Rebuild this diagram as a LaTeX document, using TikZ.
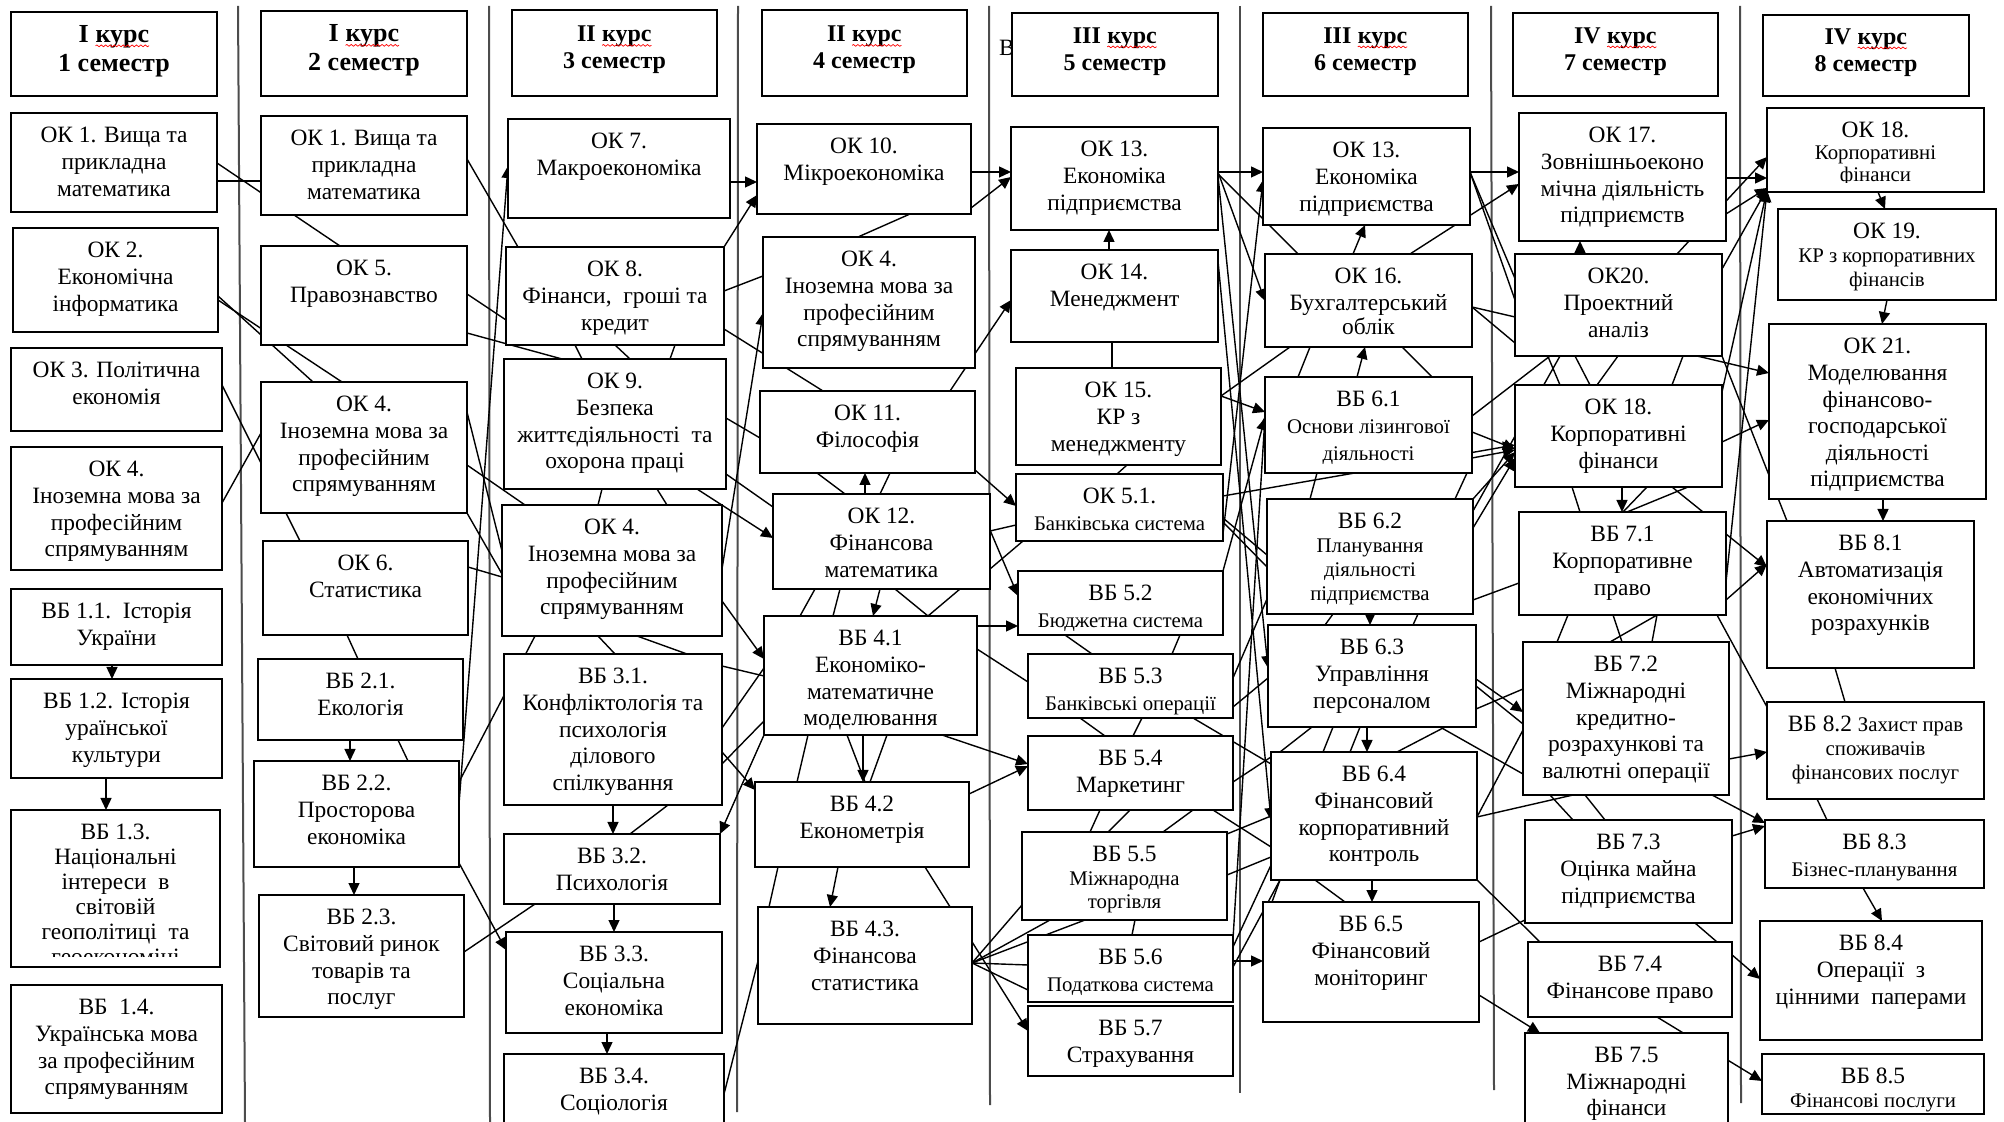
\documentclass[tikz,border=0pt]{standalone}
\usepackage{fontspec}
\setmainfont{Liberation Serif}
\usetikzlibrary{arrows.meta,backgrounds,decorations.pathmorphing}

\newcommand\sm{\fontsize{10.4}{12}\selectfont}
\newcommand\kurs{\tikz[baseline=(kw.base)]{\node[inner sep=0pt,outer sep=0pt,anchor=base](kw){курс};\draw[red,line width=0.35pt,decorate,decoration={snake,amplitude=0.45pt,segment length=2.2pt}]([yshift=-1.8pt]kw.base west)--([yshift=-1.8pt]kw.base east);}}

\tikzset{
 box/.style={draw, line width=0.9pt, fill=white, inner sep=0pt, outer sep=0pt},
 txt/.style={align=center, inner sep=0pt, font=\fontsize{11.7}{13.3}\selectfont},
 hA/.style={align=center, inner sep=0pt, font=\bfseries\fontsize{13}{14.5}\selectfont},
 hB/.style={align=center, inner sep=0pt, font=\bfseries\fontsize{12}{13.5}\selectfont},
 ln/.style={draw, line width=0.7pt},
 ar/.style={ln, -{Triangle[length=6pt,width=5.5pt]}},
 sep/.style={draw, line width=1pt, black!70},
}

% name x1 y1 x2 y2 text
\newcommand\bx[6]{%
 \node[box,minimum width={(#4-#2)*0.5pt},minimum height={(#5-#3)*0.5pt}] (#1) at ({(#2+#4)/2},{(#3+#5)/2}) {};
 \node[txt,anchor=north] (#1t) at ([yshift=-7pt]#1.north) {#6};}
% name x1 y1 x2 y2 clipy text
\newcommand\bxc[7]{%
 \node[box,minimum width={(#4-#2)*0.5pt},minimum height={(#5-#3)*0.5pt}] (#1) at ({(#2+#4)/2},{(#3+#5)/2}) {};
 \begin{scope}
 \clip (#2,#3) rectangle (#4,#6);
 \node[txt,anchor=north,font=\fontsize{11.7}{12.5}\selectfont] (#1t) at ([yshift=-7pt]#1.north) {#7};
 \end{scope}}
% style name x1 y1 x2 y2 text
\newcommand\hb[7]{%
 \node[box,minimum width={(#5-#3)*0.5pt},minimum height={(#6-#4)*0.5pt}] (#2) at ({(#3+#5)/2},{(#4+#6)/2}) {};
 \node[#1] (#2t) at ([yshift=1.5pt]#2.center) {#7};}

\begin{document}
\begin{tikzpicture}[x=0.5pt,y=-0.5pt]
\useasboundingbox (0,0) rectangle (2004,1122);

\begin{pgfonlayer}{background}
\draw[sep] (238,6) -- (245,1122);
\draw[sep] (489,6) -- (490,1122);
\draw[sep] (738,6) -- (737,1112);
\draw[sep] (989,6) -- (990,1105);
\draw[sep] (1240,6) -- (1240,1093);
\draw[sep] (1491,6) -- (1494,1090);
\draw[sep] (1740,6) -- (1741,1103);
\end{pgfonlayer}

\node[txt] (strayB) at (1007,48) {В};

% headers
\hb{hA}{h1}{11}{12}{217}{96}{I \kurs\\1 семестр}
\hb{hA}{h2}{261}{11}{467}{96}{I \kurs\\2 семестр}
\hb{hB}{h3}{512}{10}{717}{96}{II \kurs\\3 семестр}
\hb{hB}{h4}{762}{10}{967}{96}{II \kurs\\4 семестр}
\hb{hB}{h5}{1012}{13}{1218}{96}{III \kurs\\5 семестр}
\hb{hB}{h6}{1263}{13}{1468}{96}{III \kurs\\6 семестр}
\hb{hB}{h7}{1513}{13}{1718}{96}{IV \kurs\\7 семестр}
\hb{hB}{h8}{1763}{15}{1969}{96}{IV \kurs\\8 семестр}

% column 1
\bx{a1}{11}{113}{217}{212}{ОК 1. Вища та\\прикладна\\математика}
\bx{a2}{13}{228}{218}{332}{ОК 2.\\Економічна\\інформатика}
\bx{a3}{11}{348}{222}{431}{ОК 3. Політична\\економія}
\bx{a4}{11}{447}{222}{570}{ОК 4.\\Іноземна мова за\\професійним\\спрямуванням}
\bx{a11}{11}{589}{222}{665}{ВБ 1.1.\ \ Історія\\України}
\bx{a12}{11}{679}{222}{778}{ВБ 1.2. Історія\\ураїнської\\культури}
\bxc{a13}{11}{810}{220}{967}{956}{ВБ 1.3.\\Національні\\інтереси\ \ в\\світовій\\геополітиці\ \ та\\геоекономіці}
\bx{a14}{11}{985}{222}{1113}{ВБ\ \ 1.4.\\Українська мова\\за професійним\\спрямуванням}

% column 2
\bx{b1}{261}{116}{467}{215}{ОК 1. Вища та\\прикладна\\математика}
\bx{b5}{261}{246}{467}{345}{ОК 5.\\Правознавство}
\bx{b4}{261}{382}{467}{513}{ОК 4.\\Іноземна мова за\\професійним\\спрямуванням}
\bx{b6}{263}{541}{468}{635}{ОК 6.\\Статистика}
\bx{b21}{258}{659}{463}{740}{ВБ 2.1.\\Екологія}
\bx{b22}{254}{761}{459}{867}{ВБ 2.2.\\Просторова\\економіка}
\bx{b23}{259}{895}{464}{1017}{ВБ 2.3.\\Світовий ринок\\товарів та\\послуг}

% column 3
\bx{c7}{508}{119}{730}{218}{ОК 7.\\Макроекономіка}
\bx{c8}{506}{247}{724}{345}{ОК 8.\\Фінанси,\ \ гроші та\\кредит}
\bx{c9}{504}{359}{726}{489}{ОК 9.\\Безпека\\життєдіяльності\ \ та\\охорона праці}
\bx{c4}{502}{505}{722}{636}{ОК 4.\\Іноземна мова за\\професійним\\спрямуванням}
\bx{c31}{504}{654}{722}{805}{ВБ 3.1.\\Конфліктологія та\\психологія\\ділового\\спілкування}
\bx{c32}{504}{834}{720}{904}{ВБ 3.2.\\Психологія}
\bx{c33}{506}{932}{722}{1033}{ВБ 3.3.\\Соціальна\\економіка}
\bx{c34}{504}{1054}{724}{1126}{ВБ 3.4.\\Соціологія}

% column 4
\bx{d10}{757}{124}{971}{214}{ОК 10.\\Мікроекономіка}
\bx{d4}{763}{237}{975}{368}{ОК 4.\\Іноземна мова за\\професійним\\спрямуванням}
\bx{d11}{760}{391}{975}{473}{ОК 11.\\Філософія}
\bx{d12}{773}{494}{990}{589}{ОК 12.\\Фінансова\\математика}
\bx{d41}{764}{616}{977}{735}{ВБ 4.1\\Економіко-\\математичне\\моделювання}
\bx{d42}{755}{782}{969}{867}{ВБ 4.2\\Економетрія}
\bx{d43}{758}{907}{972}{1024}{ВБ 4.3.\\Фінансова\\статистика}

% column 5
\bx{e13}{1011}{127}{1218}{230}{ОК 13.\\Економіка\\підприємства}
\bx{e14}{1011}{250}{1218}{342}{ОК 14.\\Менеджмент}
\bx{e15}{1016}{368}{1221}{465}{ОК 15.\\КР з\\менеджменту}
\bx{e51}{1016}{474}{1223}{541}{ОК 5.1.\\{\sm Банківська система}}
\bx{e52}{1018}{571}{1223}{635}{ВБ 5.2\\{\sm Бюджетна система}}
\bx{e53}{1028}{654}{1233}{718}{ВБ 5.3\\{\sm Банківські операції}}
\bx{e54}{1028}{736}{1233}{810}{ВБ 5.4\\Маркетинг}
\bx{e55}{1022}{832}{1227}{920}{ВБ 5.5\\[-1.5pt]{\sm Міжнародна}\\[-1.5pt]{\sm торгівля}}
\bx{e56}{1028}{935}{1233}{1002}{ВБ 5.6\\{\sm Податкова система}}
\bx{e57}{1028}{1006}{1233}{1076}{ВБ 5.7\\Страхування}

% column 6
\bx{f13}{1263}{128}{1470}{225}{ОК 13.\\Економіка\\підприємства}
\bx{f16}{1265}{254}{1472}{347}{ОК 16.\\Бухгалтерський\\[-1.5pt]облік}
\bx{f61}{1265}{377}{1472}{473}{ВБ 6.1\\{\sm Основи лізингової}\\{\sm діяльності}}
\bx{f62}{1267}{499}{1473}{614}{ВБ 6.2\\[-1.3pt]{\sm Планування}\\[-1.3pt]{\sm діяльності}\\[-1.3pt]{\sm підприємства}}
\bx{f63}{1268}{625}{1476}{727}{ВБ 6.3\\Управління\\персоналом}
\bx{f64}{1271}{752}{1477}{880}{ВБ 6.4\\Фінансовий\\корпоративний\\контроль}
\bx{f65}{1263}{902}{1479}{1022}{ВБ 6.5\\Фінансовий\\моніторинг}

% column 7
\bx{g17}{1519}{113}{1726}{241}{ОК 17.\\Зовнішньоеконо\\мічна діяльність\\підприємств}
\bx{g20}{1515}{254}{1722}{356}{ОК20.\\Проектний\\аналіз}
\bx{g18}{1515}{385}{1722}{487}{ОК 18.\\Корпоративні\\фінанси}
\bx{g71}{1519}{512}{1726}{615}{ВБ 7.1\\Корпоративне\\право}
\bx{g72}{1523}{642}{1729}{795}{ВБ 7.2\\Міжнародні\\кредитно-\\розрахункові та\\валютні операції}
\bx{g73}{1525}{820}{1732}{923}{ВБ 7.3\\Оцінка майна\\підприємства}
\bx{g74}{1528}{942}{1732}{1017}{ВБ 7.4\\Фінансове право}
\bx{g75}{1525}{1033}{1728}{1126}{ВБ 7.5\\Міжнародні\\фінанси}

% column 8
\bxc{k18}{1767}{108}{1984}{192}{183}{ОК 18.\\[-1.5pt]{\sm Корпоративні}\\[-1.5pt]{\sm фінанси}}
\bx{k19}{1778}{209}{1996}{300}{ОК 19.\\[-1.5pt]{\sm КР з корпоративних}\\[-1.5pt]{\sm фінансів}}
\bx{k21}{1769}{324}{1986}{499}{ОК 21.\\Моделювання\\фінансово-\\господарської\\діяльності\\підприємства}
\bx{k81}{1767}{521}{1974}{668}{ВБ 8.1\\Автоматизація\\економічних\\розрахунків}
\bx{k82}{1767}{702}{1984}{799}{ВБ 8.2 {\sm Захист прав}\\[-1.5pt]{\sm споживачів}\\[-1.5pt]{\sm фінансових послуг}}
\bx{k83}{1765}{820}{1984}{888}{ВБ 8.3\\{\sm Бізнес-планування}}
\bx{k84}{1760}{921}{1982}{1040}{ВБ 8.4\\Операції\ \ з\\цінними\ \ паперами}
\bx{k85}{1762}{1054}{1984}{1114}{ВБ 8.5\\[-1.5pt]{\sm Фінансові послуги}}

\begin{pgfonlayer}{background}
% gutter 1-2
\draw[ln] (a1.east |- 0,181) -- (b1.west |- 0,181);
\draw[ln] (a1.east |- 0,163) -- (b5.north -| 340,0);
\draw[ln] (a2.east |- 0,296) -- (b4.north -| 313,0);
\draw[ln] (a2.east |- 0,300) -- (b4.north -| 342,0);
\draw[ln] (a3.east |- 0,385) -- (b4.west |- 0,463);
\draw[ln] (a4.east |- 0,503) -- (b4.west |- 0,433);
\draw[ln] (b4.south -| 286,0) -- (b6.north -| 300,0);
\draw[ln] (b6.south -| 347,0) -- (b21.north -| 358,0);
\draw[ln] (b21.south -| 398,0) -- (b22.north -| 408,0);
\draw[ar] (b21.south -| 350,0) -- (b22.north -| 350,0);
\draw[ar] (b22.south -| 354,0) -- (b23.north -| 354,0);
\draw[ar] (a11.south -| 112,0) -- (a12.north -| 112,0);
\draw[ar] (a12.south -| 106,0) -- (a13.north -| 106,0);
% gutter 2-3
\draw[ln] (b1.east |- 0,159) -- (c8.north -| 518,0);
\draw[ln] (b5.east |- 0,294) -- (c8.west |- 0,320);
\draw[ln] (b5.east |- 0,333) -- (c9.north -| 562,0);
\draw[ln] (b4.east |- 0,412) -- (c4.west |- 0,551);
\draw[ln] (b4.east |- 0,465) -- (c4.north -| 525,0);
\draw[ln] (b4.south east) -- (c4.west |- 0,574);
\draw[ln] (b6.east |- 0,567) -- (c4.west |- 0,577);
\draw[ln] (b22.east |- 0,782) -- (c4.south -| 535,0);
\draw[ar] (b22.east |- 0,804) -- (c7.west |- 0,166);
\draw[ar] (b22.east |- 0,863) -- (c33.west |- 0,950);
\draw[ln] (c32.south -| 535,0) -- (b23.east |- 0,952);
% column 3
\draw[ar] (c31.south -| 613,0) -- (c32.north -| 613,0);
\draw[ar] (c32.south -| 614,0) -- (c33.north -| 614,0);
\draw[ar] (c33.south -| 607,0) -- (c34.north -| 607,0);
\draw[ln] (c31.south -| 668,0) -- (c32.north -| 630,0);
\draw[ln] (c8.south -| 575,0) -- (c9.north -| 582,0);
\draw[ln] (c8.south -| 615,0) -- (c9.north -| 630,0);
\draw[ln] (c8.south -| 675,0) -- (c9.north -| 670,0);
\draw[ln] (c9.south -| 602,0) -- (c4.north -| 598,0);
\draw[ln] (c9.south -| 657,0) -- (c4.north -| 667,0);
\draw[ln] (c4.south -| 598,0) -- (c31.north -| 615,0);
\draw[ln] (c4.south -| 637,0) -- (c31.north -| 687,0);
% gutter 3-4
\draw[ar] (c7.east |- 0,182) -- (d10.west |- 0,182);
\draw[ar] (c8.north east) -- (d10.west |- 0,195);
\draw[ln] (c8.east |- 0,291) -- (d4.west |- 0,276);
\draw[ln] (c8.east |- 0,329) -- (d11.north -| 823,0);
\draw[ln] (c9.east |- 0,418) -- (d11.west |- 0,438);
\draw[ln] (c9.east |- 0,474) -- (d12.west |- 0,507);
\draw[ar] (c9.south -| 697,0) -- (d12.west |- 0,538);
\draw[ar] (c4.east |- 0,569) -- (d4.west |- 0,313);
\draw[ar] (c4.east |- 0,601) -- (d41.west |- 0,659);
\draw[ln] (c31.east |- 0,666) -- (d41.west |- 0,676);
\draw[ln] (c31.east |- 0,728) -- (d41.west |- 0,668);
\draw[ln] (c31.east |- 0,764) -- (d41.west |- 0,721);
\draw[ar] (c31.east |- 0,752) -- (d42.west |- 0,790);
\draw[ar] (d41.south west) -- (c32.north east);
\draw[ln] (c34.east |- 0,1094) -- (d43.west |- 0,961);
% column 4
\draw[ln] (d10.south -| 910,0) -- (d4.north -| 858,0);
\draw[ar] (d11.north -| 950,0) -- (e14.west |- 0,300);
\draw[ar] (d12.north -| 865,0) -- (d11.south -| 865,0);
\draw[ln] (d11.south -| 817,0) -- (d12.north -| 845,0);
\draw[ln] (d11.south -| 890,0) -- (d12.north -| 880,0);
\draw[ar] (d11.east |- 0,470) -- (e51.west |- 0,506);
\draw[ar] (d12.south -| 880,0) -- (d41.north -| 873,0);
\draw[ln] (d12.south -| 815,0) -- (d41.north -| 800,0);
\draw[ln] (d12.south -| 840,0) -- (d41.north -| 833,0);
\draw[ln] (d12.south -| 895,0) -- (d41.north -| 928,0);
\draw[ln] (d12.south -| 960,0) -- (d41.north -| 928,0);
\draw[ar] (d41.south -| 863,0) -- (d42.north -| 863,0);
\draw[ln] (d41.south -| 847,0) -- (d42.north -| 865,0);
\draw[ln] (d41.south -| 887,0) -- (d42.north -| 870,0);
\draw[ln] (d41.south -| 808,0) -- (d42.north -| 797,0);
\draw[ar] (d42.south -| 838,0) -- (d43.north -| 830,0);
\draw[ln] (d42.south -| 778,0) -- (d43.north -| 769,0);
\draw[ar] (d42.south -| 925,0) -- (e57.west |- 0,1031);
% gutter 4-5
\draw[ar] (d10.east |- 0,172) -- (e13.west |- 0,172);
\draw[ar] (d10.east |- 0,208) -- (e13.west |- 0,177);
\draw[ar] (d12.east |- 0,530) -- (e52.west |- 0,596);
\draw[ar] (d41.east |- 0,626) -- (e52.west |- 0,626);
\draw[ln] (d41.east |- 0,649) -- (e53.west |- 0,682);
\draw[ar] (d41.south -| 942,0) -- (e54.west |- 0,764);
\draw[ar] (d42.east |- 0,794) -- (e54.west |- 0,766);
\draw[ln] (d12.east |- 0,531) -- (e51.west |- 0,525);
\draw[ln] (e51.south -| 1023,0) -- (d12.east |- 0,569);
\draw[ln] (d43.east |- 0,963) -- (e55.west |- 0,905);
\draw[ln] (d43.east |- 0,963) -- (e55.south -| 1050,0);
\draw[ln] (d43.east |- 0,963) -- (e55.south -| 1085,0);
\draw[ln] (d43.east |- 0,963) -- (e56.west |- 0,965);
\draw[ln] (d43.east |- 0,963) -- (e56.west |- 0,990);
% column 5
\draw[ar] (e14.north -| 1109,0) -- (e13.south -| 1109,0);
\draw[ln] (e14.south -| 1112,0) -- (e15.north -| 1112,0);
\draw[ln] (e15.south -| 1127,0) -- (e51.north -| 1117,0);
\draw[ln] (e52.south -| 1065,0) -- (e53.north -| 1092,0);
\draw[ln] (e52.south -| 1180,0) -- (e53.north -| 1172,0);
\draw[ln] (e53.south -| 1080,0) -- (e54.north -| 1105,0);
\draw[ln] (e53.south -| 1142,0) -- (e54.north -| 1133,0);
\draw[ln] (e54.south -| 1100,0) -- (e55.north -| 1090,0);
\draw[ln] (e54.south -| 1130,0) -- (e55.north -| 1108,0);
\draw[ln] (e54.south -| 1193,0) -- (e55.north -| 1163,0);
\draw[ln] (e55.south -| 1135,0) -- (e56.north -| 1132,0);
% gutter 5-6
\draw[ar] (e13.east |- 0,172) -- (f13.west |- 0,172);
\draw[ln] (e13.east |- 0,174) -- (f16.north -| 1298,0);
\draw[ar] (e13.east |- 0,172) -- (f16.west |- 0,301);
\draw[ar] (e13.east |- 0,176) -- (f63.west |- 0,668);
\draw[ar] (e14.east |- 0,261) -- (f64.west |- 0,820);
\draw[ar] (e15.east |- 0,396) -- (f61.west |- 0,412);
\draw[ln] (e15.east |- 0,396) -- (f16.south -| 1290,0);
\draw[ar] (e51.east |- 0,534) -- (f13.west |- 0,180);
\draw[ar] (e52.north east) -- (f61.west |- 0,418);
\draw[ar] (e51.east |- 0,496) -- (g18.west |- 0,445);
\draw[ln] (e51.east |- 0,518) -- (f62.west |- 0,555);
\draw[ln] (e51.east |- 0,522) -- (f62.west |- 0,567);
\draw[ln] (e53.east |- 0,707) -- (f63.west |- 0,678);
\draw[ln] (e53.east |- 0,678) -- (f62.west |- 0,599);
\draw[ln] (e53.south -| 1193,0) -- (f64.west |- 0,764);
\draw[ln] (e54.east |- 0,782) -- (f64.west |- 0,757);
\draw[ln] (e55.east |- 0,834) -- (f64.west |- 0,816);
\draw[ln] (e55.east |- 0,875) -- (f64.west |- 0,857);
\draw[ln] (e56.east |- 0,947) -- (f64.west |- 0,865);
\draw[ln] (e56.east |- 0,967) -- (f64.south -| 1280,0);
\draw[ar] (e56.east |- 0,961) -- (f65.west |- 0,961);
\draw[ar] (e56.east |- 0,939) -- (f61.west |- 0,416);
\draw[ln] (e54.south -| 1213,0) -- (f64.west |- 0,847);
% column 6
\draw[ar] (f16.north -| 1353,0) -- (f13.south -| 1365,0);
\draw[ar] (f61.north -| 1357,0) -- (f16.south -| 1365,0);
\draw[ar] (f62.south -| 1370,0) -- (f63.north -| 1370,0);
\draw[ar] (f63.south -| 1367,0) -- (f64.north -| 1367,0);
\draw[ar] (f64.south -| 1372,0) -- (f65.north -| 1372,0);
\draw[ln] (f16.south -| 1310,0) -- (f61.north -| 1298,0);
\draw[ln] (f16.south -| 1402,0) -- (f61.north -| 1432,0);
\draw[ln] (f61.south -| 1317,0) -- (f62.north -| 1310,0);
\draw[ln] (f61.south -| 1467,0) -- (f62.north -| 1455,0);
\draw[ln] (f62.south -| 1333,0) -- (f63.north -| 1325,0);
\draw[ln] (f62.south -| 1418,0) -- (f63.north -| 1413,0);
\draw[ln] (f63.south -| 1312,0) -- (f64.north -| 1280,0);
\draw[ln] (f63.south -| 1333,0) -- (f64.north -| 1323,0);
\draw[ln] (f63.south -| 1360,0) -- (f64.north -| 1350,0);
\draw[ln] (f63.south -| 1445,0) -- (f64.north -| 1397,0);
\draw[ln] (f64.south -| 1315,0) -- (f65.north -| 1345,0);
\draw[ln] (f64.south -| 1280,0) -- (f65.north -| 1272,0);
% gutter 6-7
\draw[ar] (f13.east |- 0,172) -- (g17.west |- 0,172);
\draw[ar] (f16.north -| 1410,0) -- (g17.west |- 0,184);
\draw[ln] (f13.east |- 0,172) -- (g20.west |- 0,300);
\draw[ln] (f13.east |- 0,172) -- (g18.north -| 1560,0);
\draw[ln] (f16.east |- 0,307) -- (g20.west |- 0,317);
\draw[ln] (f16.east |- 0,307) -- (g20.west |- 0,343);
\draw[ln] (f61.east |- 0,416) -- (g20.south -| 1550,0);
\draw[ar] (f61.east |- 0,432) -- (g18.west |- 0,449);
\draw[ar] (f61.east |- 0,458) -- (g18.west |- 0,450);
\draw[ar] (f62.north east) -- (g18.west |- 0,452);
\draw[ar] (f62.east |- 0,528) -- (g18.west |- 0,458);
\draw[ln] (f62.east |- 0,511) -- (g20.south -| 1560,0);
\draw[ln] (f62.east |- 0,600) -- (g71.west |- 0,583);
\draw[ar] (f63.east |- 0,679) -- (g72.west |- 0,712);
\draw[ln] (f63.east |- 0,686) -- (g72.west |- 0,724);
\draw[ln] (f63.east |- 0,709) -- (g72.west |- 0,689);
\draw[ln] (f63.south -| 1440,0) -- (g72.west |- 0,774);
\draw[ln] (f64.east |- 0,817) -- (g72.west |- 0,730);
\draw[ln] (f64.east |- 0,817) -- (g72.south -| 1573,0);
\draw[ln] (f64.south east) -- (g74.north -| 1540,0);
\draw[ln] (f65.east |- 0,942) -- (g73.west |- 0,920);
\draw[ar] (f65.east |- 0,995) -- (g75.north -| 1540,0);
% column 7
\draw[ar] (g20.north -| 1580,0) -- (g17.south -| 1580,0);
\draw[ar] (g18.south -| 1622,0) -- (g71.north -| 1622,0);
\draw[ln] (g20.south -| 1575,0) -- (g18.north -| 1590,0);
\draw[ln] (g20.south -| 1618,0) -- (g18.north -| 1597,0);
\draw[ln] (g20.south -| 1683,0) -- (g18.north -| 1672,0);
\draw[ln] (g18.south -| 1572,0) -- (g71.north -| 1580,0);
\draw[ln] (g18.south -| 1647,0) -- (g71.north -| 1623,0);
\draw[ln] (g18.south -| 1672,0) -- (g71.north -| 1703,0);
\draw[ln] (g18.south -| 1688,0) -- (g71.north -| 1627,0);
\draw[ln] (g71.south -| 1568,0) -- (g72.north -| 1557,0);
\draw[ln] (g71.south -| 1613,0) -- (g72.north -| 1622,0);
\draw[ln] (g71.south -| 1657,0) -- (g72.north -| 1610,0);
\draw[ln] (g71.south -| 1657,0) -- (g72.north -| 1652,0);
\draw[ln] (g72.south -| 1550,0) -- (g73.north -| 1573,0);
\draw[ln] (g72.south -| 1585,0) -- (g73.north -| 1605,0);
\draw[ar] (g74.south -| 1657,0) -- (k85.west |- 0,1081);
\draw[ar] (g20.north -| 1677,0) -- (k18.west |- 0,157);
% gutter 7-8
\draw[ar] (g17.east |- 0,178) -- (k18.west |- 0,178);
\draw[ar] (g17.east |- 0,214) -- (k18.west |- 0,188);
\draw[ar] (g20.east |- 0,269) -- (k18.west |- 0,189);
\draw[ar] (g18.east |- 0,392) -- (k18.west |- 0,190);
\draw[ar] (g71.east |- 0,582) -- (k18.west |- 0,190);
\draw[ar] (g20.south -| 1697,0) -- (k21.west |- 0,373);
\draw[ar] (g18.east |- 0,442) -- (k21.west |- 0,420);
\draw[ln] (g20.south east) -- (k81.north -| 1787,0);
\draw[ar] (g71.east |- 0,534) -- (k81.west |- 0,567);
\draw[ar] (g71.east |- 0,600) -- (k81.west |- 0,564);
\draw[ln] (g71.south -| 1717,0) -- (k82.west |- 0,707);
\draw[ar] (g72.east |- 0,759) -- (k82.west |- 0,752);
\draw[ar] (g72.south -| 1712,0) -- (k83.west |- 0,823);
\draw[ar] (g73.east |- 0,836) -- (k83.west |- 0,826);
\draw[ar] (g73.south -| 1695,0) -- (k84.west |- 0,979);
% column 8
\draw[ar] (k18.south -| 1878,0) -- (k19.north -| 1885,0);
\draw[ar] (k19.south -| 1887,0) -- (k21.north -| 1882,0);
\draw[ar] (k21.south -| 1883,0) -- (k81.north -| 1883,0);
\draw[ln] (k81.south -| 1835,0) -- (k82.north -| 1845,0);
\draw[ln] (k82.south -| 1817,0) -- (k83.north -| 1827,0);
\draw[ar] (k83.south -| 1863,0) -- (k84.north -| 1882,0);
\end{pgfonlayer}
\end{tikzpicture}
\end{document}
